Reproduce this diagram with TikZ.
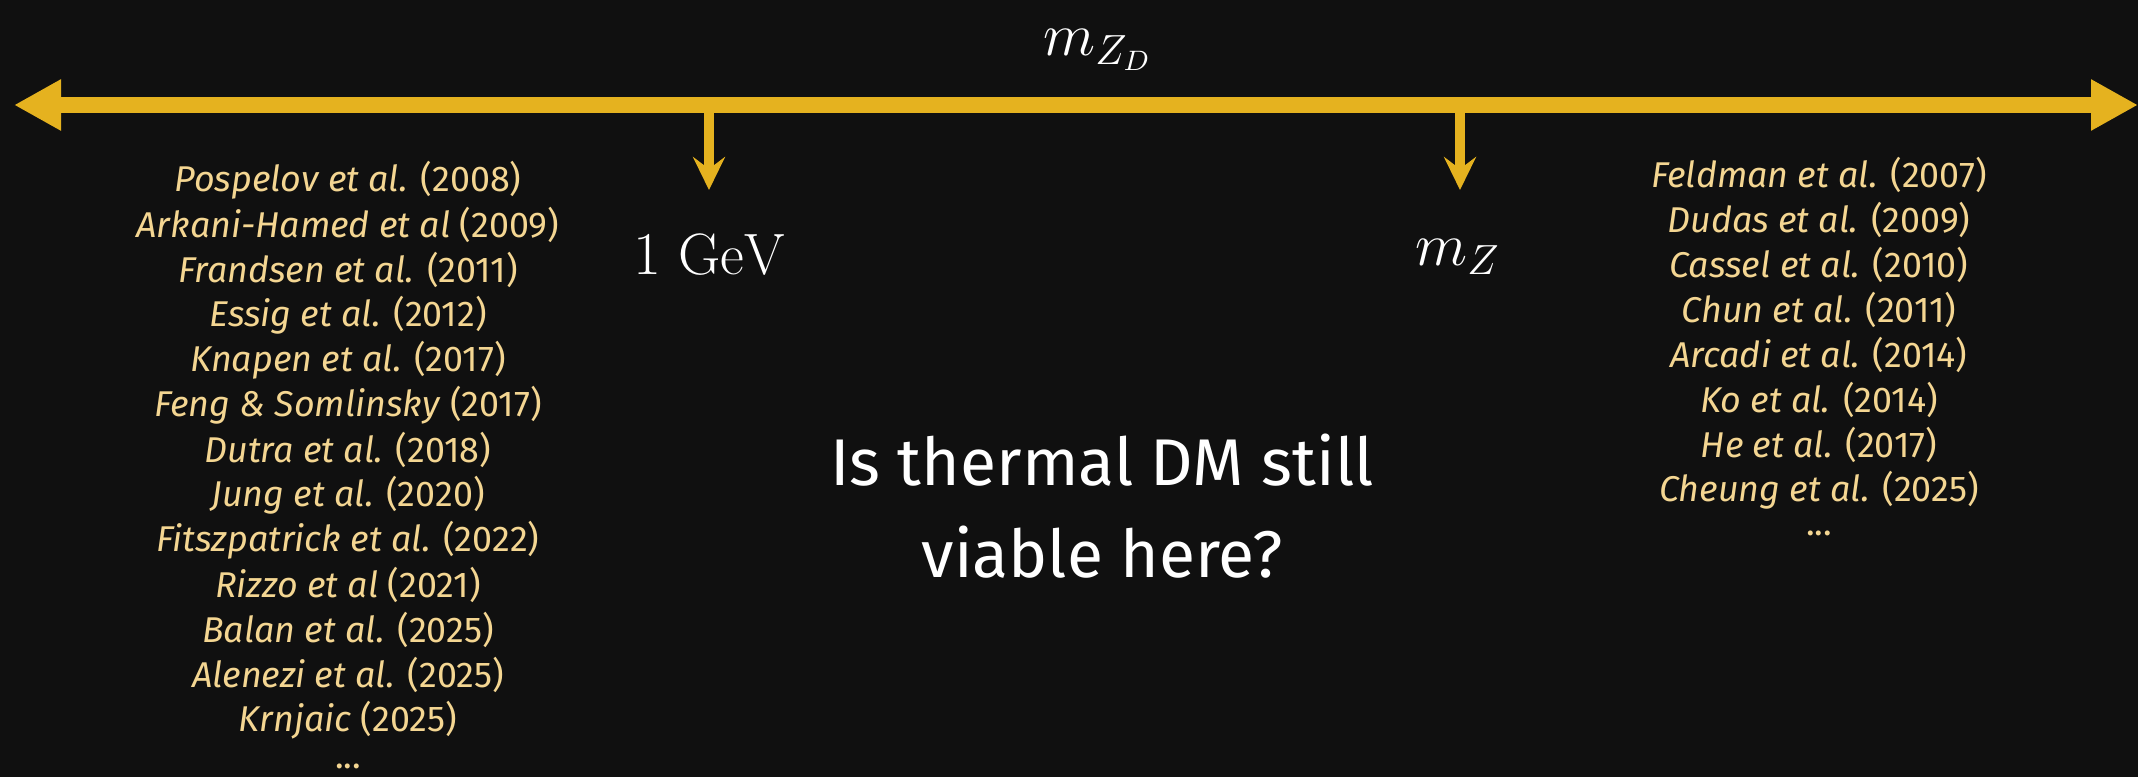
\documentclass[tikz,border=0pt]{standalone}
\usepackage{amsmath}
\usepackage{fontspec}
\setsansfont{Fira Sans}
\usepackage{tikz}
\usetikzlibrary{arrows.meta,positioning}

\definecolor{board}{RGB}{16,16,16}
\definecolor{axisgold}{RGB}{229,178,31}
\definecolor{refgold}{RGB}{244,214,146}

\begin{document}
\begin{tikzpicture}[
    axisline/.style={axisgold, line width=4.8pt, {Triangle[width=0.48cm,length=0.47cm]}-{Triangle[width=0.48cm,length=0.47cm]}},
    tickarrow/.style={axisgold, line width=2.8pt, -{Stealth[width=0.32cm,length=0.33cm,inset=0.12cm]}},
    refline/.style={text=refgold, font=\sffamily\fontsize{10.2}{12}\selectfont},
    scalelabel/.style={text=white, font=\fontsize{16.6}{19}\selectfont}
  ]
    % Background
    \fill[board] (0,0) rectangle (21.38,-7.77);
    \useasboundingbox (0,0) rectangle (21.38,-7.77);

    % Mass axis
    \coordinate (axL) at (0.14,-1.05);
    \coordinate (axR) at (21.38,-1.05);
    \draw[axisline] (axL) -- (axR);
    \node[scalelabel] (mzd) at (10.98,-0.50) {$m_{Z_D}$};

    % Scale markers
    \coordinate (t1) at (7.09,-1.10);
    \coordinate (t1end) at (7.09,-1.90);
    \coordinate (t2) at (14.60,-1.10);
    \coordinate (t2end) at (14.60,-1.90);
    \draw[tickarrow] (t1) -- (t1end);
    \draw[tickarrow] (t2) -- (t2end);
    \node[scalelabel] (gev) at (7.09,-2.55) {$1\ \mathrm{GeV}$};
    \node[scalelabel] (mz) at (14.58,-2.57) {$m_Z$};

    % Light mediator references
    \foreach \who/\yr [count=\i] in {{Pospelov et al.}/2008, {Arkani-Hamed et al}/2009,
        {Frandsen et al.}/2011, {Essig et al.}/2012, {Knapen et al.}/2017,
        {Feng \& Somlinsky}/2017, {Dutra et al.}/2018, {Jung et al.}/2020,
        {Fitszpatrick et al.}/2022, {Rizzo et al}/2021, {Balan et al.}/2025,
        {Alenezi et al.}/2025, {Krnjaic}/2025} {
        \node[refline] (L\i) at (3.48,-1.35-0.45*\i) {\textit{\who} (\yr)};
    }
    \node[refline] (Ldots) at (3.48,-7.66) {...};

    % Heavy mediator references
    \foreach \who/\yr [count=\i] in {{Feldman et al.}/2007, {Dudas et al.}/2009,
        {Cassel et al.}/2010, {Chun et al.}/2011, {Arcadi et al.}/2014,
        {Ko et al.}/2014, {He et al.}/2017, {Cheung et al.}/2025} {
        \node[refline] (R\i) at (18.19,-1.30-0.45*\i) {\textit{\who} (\yr)};
    }
    \node[refline] (Rdots) at (18.19,-5.33) {...};

    % Question
    \node[text=white, align=center, font=\sffamily\fontsize{18.8}{26}\selectfont] (ask) at (11.02,-5.06)
        {Is thermal DM still\\viable here?};
\end{tikzpicture}
\end{document}
